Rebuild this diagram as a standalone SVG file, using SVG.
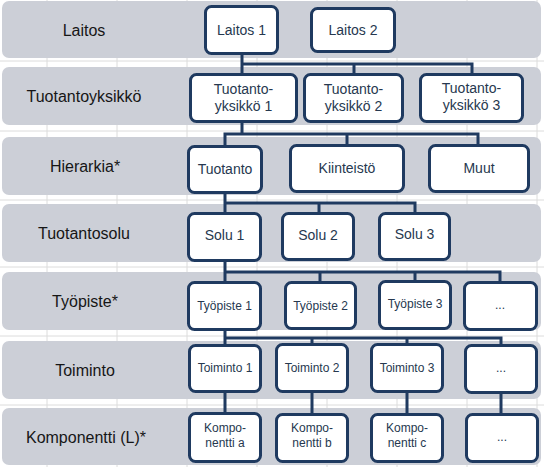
<svg xmlns="http://www.w3.org/2000/svg" width="544" height="467" viewBox="0 0 544 467">
<style>
.grid{stroke:#dcdcdc;stroke-width:1}
.band{fill:#cccfd7}
.lbl{font-family:"Liberation Sans",Arial,sans-serif;font-size:16px;fill:#161616;text-anchor:middle}
.node rect{fill:#ffffff;stroke:#1f3a60;stroke-width:3}
.t14{font-family:"Liberation Sans",Arial,sans-serif;font-size:14px;fill:#26384f;text-anchor:middle}
.t12{font-family:"Liberation Sans",Arial,sans-serif;font-size:12px;fill:#26384f;text-anchor:middle}
.con{fill:none;stroke:#1f3a60;stroke-width:3;stroke-linejoin:miter}
</style>
<rect x="0" y="0" width="544" height="467" fill="#ffffff"/>
<g id="grid">
<path class="grid" d="M47,0V467M117,0V467M187,0V467M257,0V467M327,0V467M397,0V467M467,0V467M537,0V467"/>
<path class="grid" d="M0,61H544M0,131H544M0,200H544M0,267H544M0,336H544M0,405H544"/>
</g>
<g id="bands">
<rect class="band" x="2" y="1" width="539" height="57" rx="7"/>
<rect class="band" x="2" y="67" width="539" height="58" rx="7"/>
<rect class="band" x="2" y="137" width="539" height="58" rx="7"/>
<rect class="band" x="2" y="204" width="539" height="58" rx="7"/>
<rect class="band" x="2" y="272" width="539" height="58" rx="7"/>
<rect class="band" x="2" y="341" width="539" height="58" rx="7"/>
<rect class="band" x="2" y="408" width="539" height="57" rx="7"/>
<text class="lbl" x="84" y="35.5">Laitos</text>
<text class="lbl" x="84" y="102">Tuotantoyksikkö</text>
<text class="lbl" x="85" y="172">Hierarkia*</text>
<text class="lbl" x="84" y="239">Tuotantosolu</text>
<text class="lbl" x="85" y="307">Työpiste*</text>
<text class="lbl" x="85" y="376">Toiminto</text>
<text class="lbl" x="86" y="443">Komponentti (L)*</text>
</g>
<g id="connectors">
<path class="con" d="M242,55V73M242,64H472V73M354,64V73"/>
<path class="con" d="M242,123V134M225,145V134H478V144M347,134V144"/>
<path class="con" d="M225,194V212M225,203H415V212M319,203V212"/>
<path class="con" d="M225,262V281M225,272H500V281M320,272V281M415,272V281"/>
<path class="con" d="M225,331V344M225,338H501V344M312,338V343M407,338V343"/>
<path class="con" d="M225,393V412M312,393V413M407,393V413M501,393V413"/>
</g>
<g id="laitos1" class="node"><rect x="205.5" y="6.5" width="72" height="47" rx="6"/><text class="t14" x="241.5" y="35">Laitos 1</text></g>
<g id="laitos2" class="node"><rect x="311.5" y="8.5" width="83" height="43" rx="6"/><text class="t14" x="353" y="35">Laitos 2</text></g>
<g id="ty1" class="node"><rect x="190.5" y="74.5" width="106" height="47" rx="6"/><text class="t14" x="243.5" y="94">Tuotanto-</text><text class="t14" x="243.5" y="111">yksikkö 1</text></g>
<g id="ty2" class="node"><rect x="304.5" y="74.5" width="98" height="47" rx="6"/><text class="t14" x="353.5" y="94">Tuotanto-</text><text class="t14" x="353.5" y="111">yksikkö 2</text></g>
<g id="ty3" class="node"><rect x="420.5" y="74.5" width="102" height="47" rx="6"/><text class="t14" x="471.5" y="93">Tuotanto-</text><text class="t14" x="471.5" y="110">yksikkö 3</text></g>
<g id="tuotanto" class="node"><rect x="188.5" y="146.5" width="73" height="46" rx="6"/><text class="t14" x="225" y="174">Tuotanto</text></g>
<g id="kiinteisto" class="node"><rect x="290.5" y="145.5" width="113" height="46" rx="6"/><text class="t14" x="347" y="173">Kiinteistö</text></g>
<g id="muut" class="node"><rect x="429.5" y="145.5" width="99" height="46" rx="6"/><text class="t14" x="479" y="173">Muut</text></g>
<g id="solu1" class="node"><rect x="188.5" y="213.5" width="72" height="47" rx="6"/><text class="t14" x="224.5" y="240">Solu 1</text></g>
<g id="solu2" class="node"><rect x="282.5" y="213.5" width="71" height="46" rx="6"/><text class="t14" x="318" y="240">Solu 2</text></g>
<g id="solu3" class="node"><rect x="379.5" y="213.5" width="70" height="46" rx="6"/><text class="t14" x="414.5" y="239">Solu 3</text></g>
<g id="tp1" class="node"><rect x="188.5" y="282.5" width="72" height="47" rx="6"/><text class="t12" x="224.5" y="310">Työpiste 1</text></g>
<g id="tp2" class="node"><rect x="285.5" y="282.5" width="70" height="46" rx="6"/><text class="t12" x="320.5" y="310">Työpiste 2</text></g>
<g id="tp3" class="node"><rect x="379.5" y="281.5" width="71" height="47" rx="6"/><text class="t12" x="415" y="308">Työpiste 3</text></g>
<g id="tp4" class="node"><rect x="464.5" y="282.5" width="72" height="47" rx="6"/><text class="t12" x="500" y="309">...</text></g>
<g id="to1" class="node"><rect x="189.5" y="345.5" width="71" height="46" rx="6"/><text class="t12" x="225" y="372">Toiminto 1</text></g>
<g id="to2" class="node"><rect x="276.5" y="344.5" width="71" height="47" rx="6"/><text class="t12" x="312" y="372">Toiminto 2</text></g>
<g id="to3" class="node"><rect x="371.5" y="344.5" width="71" height="47" rx="6"/><text class="t12" x="407" y="372">Toiminto 3</text></g>
<g id="to4" class="node"><rect x="465.5" y="345.5" width="71" height="47" rx="6"/><text class="t12" x="501" y="372">...</text></g>
<g id="ka" class="node"><rect x="189.5" y="413.5" width="71" height="48" rx="6"/><text class="t12" x="225" y="432">Kompo-</text><text class="t12" x="225" y="447">nentti a</text></g>
<g id="kb" class="node"><rect x="276.5" y="414.5" width="71" height="47" rx="6"/><text class="t12" x="312" y="432">Kompo-</text><text class="t12" x="312" y="447">nentti b</text></g>
<g id="kc" class="node"><rect x="371.5" y="414.5" width="71" height="47" rx="6"/><text class="t12" x="407" y="432">Kompo-</text><text class="t12" x="407" y="447">nentti c</text></g>
<g id="kd" class="node"><rect x="466.5" y="414.5" width="71" height="47" rx="6"/><text class="t12" x="502" y="441">...</text></g>
</svg>
